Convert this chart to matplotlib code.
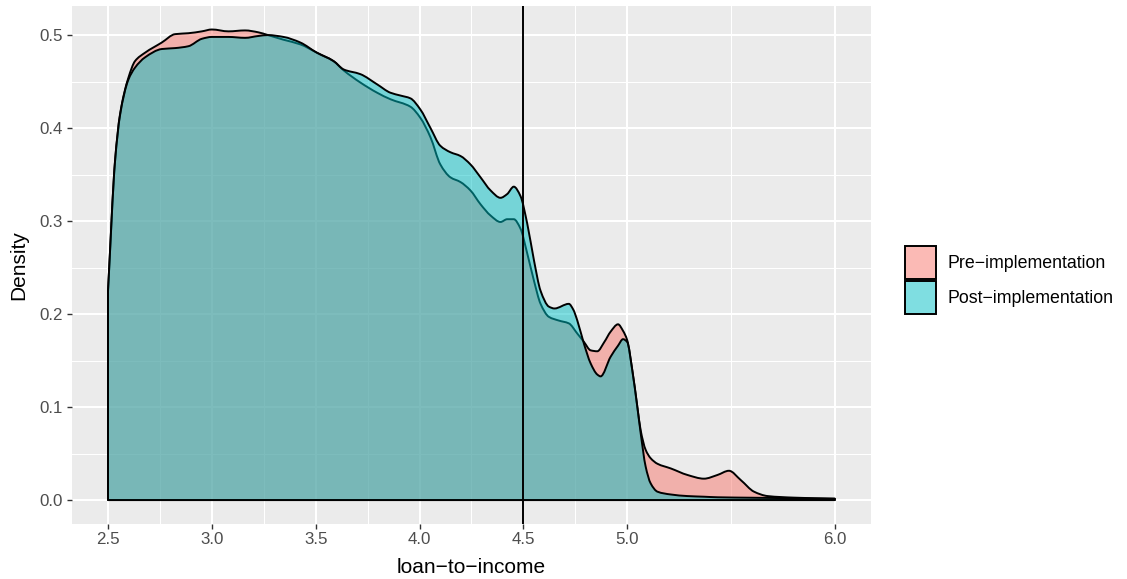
import matplotlib
matplotlib.use("Agg")
import numpy as np
import matplotlib.pyplot as plt
from matplotlib.patches import Patch, PathPatch
from matplotlib.path import Path
from matplotlib.ticker import FixedLocator

plt.rcParams['font.family'] = ['Liberation Sans', 'DejaVu Sans']

series_names = ["Pre\u2212implementation", "Post\u2212implementation"]
series_colors = ["#F8766D", "#00BFC4"]

pre_x = [2.5, 2.534, 2.558, 2.598, 2.63, 2.678, 2.759, 2.823, 2.887, 2.952, 3.0, 3.08,
         3.16, 3.223, 3.27, 3.345, 3.426, 3.506, 3.586, 3.635, 3.715, 3.796, 3.86, 3.956,
         4.004, 4.053, 4.10, 4.149, 4.197, 4.245, 4.294, 4.342, 4.39, 4.422, 4.454, 4.486,
         4.519, 4.551, 4.583, 4.623, 4.671, 4.719, 4.76, 4.792, 4.824, 4.856, 4.89, 4.92,
         4.956, 4.98, 5.0, 5.025, 5.049, 5.065, 5.089, 5.113, 5.146, 5.21, 5.29, 5.37,
         5.435, 5.49, 5.547, 5.611, 5.676, 5.804, 6.0]
pre_y = [0.225, 0.365, 0.415, 0.454, 0.472, 0.481, 0.492, 0.501, 0.502, 0.504, 0.506, 0.504,
         0.505, 0.503, 0.500, 0.495, 0.490, 0.481, 0.472, 0.462, 0.449, 0.438, 0.431, 0.423,
         0.411, 0.390, 0.361, 0.347, 0.342, 0.333, 0.318, 0.306, 0.299, 0.302, 0.302, 0.292,
         0.265, 0.236, 0.211, 0.197, 0.193, 0.190, 0.179, 0.170, 0.161, 0.160, 0.170, 0.181,
         0.189, 0.182, 0.172, 0.139, 0.100, 0.075, 0.054, 0.045, 0.039, 0.034, 0.027, 0.023,
         0.027, 0.0315, 0.0215, 0.009, 0.0043, 0.0026, 0.0014]

post_x = [2.5, 2.534, 2.558, 2.598, 2.63, 2.678, 2.759, 2.823, 2.887, 2.952, 3.0, 3.08,
          3.16, 3.223, 3.27, 3.345, 3.426, 3.506, 3.586, 3.635, 3.715, 3.796, 3.86, 3.908,
          3.956, 4.004, 4.053, 4.10, 4.149, 4.197, 4.245, 4.294, 4.342, 4.39, 4.422, 4.454,
          4.486, 4.519, 4.551, 4.583, 4.623, 4.65, 4.719, 4.74, 4.76, 4.792, 4.824, 4.856,
          4.872, 4.92, 4.956, 4.98, 5.0, 5.025, 5.049, 5.065, 5.089, 5.113, 5.146, 5.21,
          5.29, 5.37, 5.435, 5.6, 5.8, 6.0]
post_y = [0.225, 0.365, 0.414, 0.452, 0.465, 0.476, 0.485, 0.486, 0.488, 0.496, 0.498, 0.498,
          0.497, 0.499, 0.500, 0.498, 0.492, 0.481, 0.472, 0.463, 0.458, 0.447, 0.438, 0.435,
          0.432, 0.420, 0.400, 0.381, 0.374, 0.370, 0.361, 0.347, 0.333, 0.325, 0.329, 0.337,
          0.327, 0.297, 0.258, 0.225, 0.208, 0.206, 0.211, 0.205, 0.193, 0.168, 0.147, 0.135,
          0.133, 0.154, 0.166, 0.173, 0.170, 0.139, 0.100, 0.072, 0.036, 0.018, 0.009, 0.006,
          0.0043, 0.0036, 0.003, 0.0025, 0.002, 0.0015]

x_ticks = [2.5, 3.0, 3.5, 4.0, 4.5, 5.0, 6.0]
x_tick_labels = ["2.5", "3.0", "3.5", "4.0", "4.5", "5.0", "6.0"]
x_minor = [2.75, 3.25, 3.75, 4.25, 4.75, 5.5]
y_ticks = [0.0, 0.1, 0.2, 0.3, 0.4, 0.5]
y_tick_labels = ["0.0", "0.1", "0.2", "0.3", "0.4", "0.5"]
y_minor = [0.05, 0.15, 0.25, 0.35, 0.45]
vline_x = 4.5


def pchip_slopes(x, y):
    x = np.asarray(x, float)
    y = np.asarray(y, float)
    h = np.diff(x)
    d = np.diff(y) / h
    n = len(x)
    m = np.zeros(n)
    for i in range(1, n - 1):
        if d[i - 1] * d[i] <= 0:
            m[i] = 0.0
        else:
            w1 = 2 * h[i] + h[i - 1]
            w2 = h[i] + 2 * h[i - 1]
            m[i] = (w1 + w2) / (w1 / d[i - 1] + w2 / d[i])
    m[0] = d[0]
    m[-1] = d[-1]
    return m


def density_path(xs, ys):
    xs = np.asarray(xs, float)
    ys = np.asarray(ys, float)
    m = pchip_slopes(xs, ys)
    verts = [(xs[0], 0.0), (xs[0], ys[0])]
    codes = [Path.MOVETO, Path.LINETO]
    for i in range(len(xs) - 1):
        h = xs[i + 1] - xs[i]
        verts += [(xs[i] + h / 3, ys[i] + m[i] * h / 3),
                  (xs[i + 1] - h / 3, ys[i + 1] - m[i + 1] * h / 3),
                  (xs[i + 1], ys[i + 1])]
        codes += [Path.CURVE4] * 3
    verts += [(xs[-1], 0.0), (xs[0], 0.0)]
    codes += [Path.LINETO, Path.CLOSEPOLY]
    return Path(verts, codes)


fig = plt.figure(figsize=(11.27, 5.79), dpi=100)
ax = fig.add_axes([0.0636, 0.0957, 0.7094, 0.894])
ax.set_facecolor("#EBEBEB")

for xs, ys, col in [(pre_x, pre_y, series_colors[0]), (post_x, post_y, series_colors[1])]:
    rgba = matplotlib.colors.to_rgba(col, 0.5)
    patch = PathPatch(density_path(xs, ys), facecolor=rgba, edgecolor="black",
                      linewidth=1.4, zorder=3, joinstyle="round")
    ax.add_patch(patch)

ax.axvline(vline_x, color="black", linewidth=1.4, zorder=4)

ax.set_xlim(2.325, 6.175)
ax.set_ylim(-0.0253, 0.5313)
ax.xaxis.set_major_locator(FixedLocator(x_ticks))
ax.xaxis.set_minor_locator(FixedLocator(x_minor))
ax.yaxis.set_major_locator(FixedLocator(y_ticks))
ax.yaxis.set_minor_locator(FixedLocator(y_minor))
ax.set_xticklabels(x_tick_labels)
ax.set_yticklabels(y_tick_labels)
ax.grid(which="major", color="white", linewidth=1.5, zorder=0)
ax.grid(which="minor", color="white", linewidth=0.75, zorder=0)
ax.set_axisbelow(True)
for s in ax.spines.values():
    s.set_visible(False)
ax.tick_params(which="major", length=3.6, width=1.0, color="#333333",
               labelcolor="#4D4D4D", labelsize=12.2, pad=2.5)
ax.tick_params(which="minor", length=0)

ax.set_xlabel("loan\u2212to\u2212income", fontsize=15, color="black", labelpad=8)
ax.set_ylabel("Density", fontsize=15, color="black", labelpad=8.5)

handles = [Patch(facecolor=matplotlib.colors.to_rgba(c, 0.5), edgecolor="black",
                 linewidth=1.4, label=n) for c, n in zip(series_colors, series_names)]
fs = 12.8
fig.legend(handles=handles, loc="center left", bbox_to_anchor=(0.803, 0.516),
           frameon=False, fontsize=fs, handlelength=1.75, handleheight=2.5,
           labelspacing=0.1, handletextpad=0.62, borderpad=0, borderaxespad=0)

fig.savefig("out.png", dpi=100)
